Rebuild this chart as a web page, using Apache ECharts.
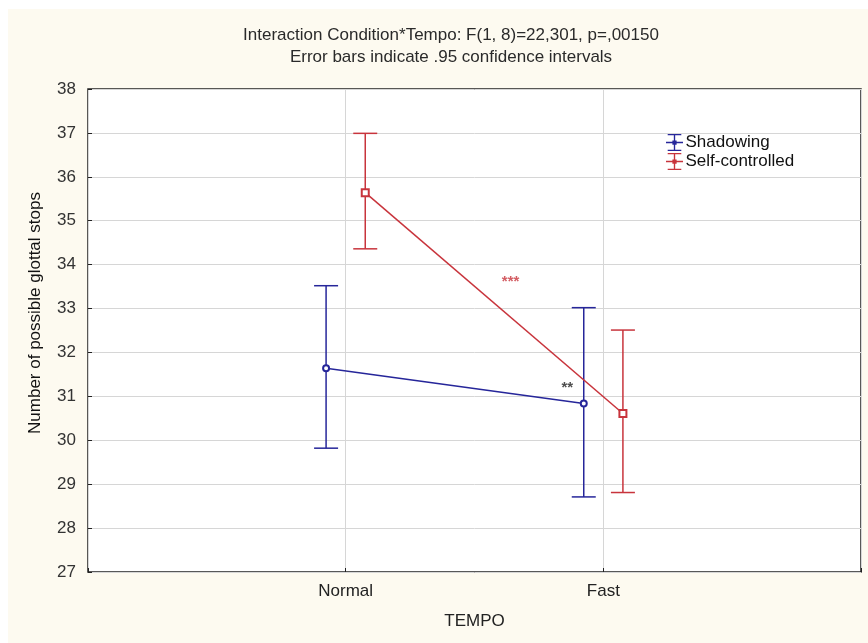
<!DOCTYPE html>
<html>
<head>
<meta charset="utf-8">
<script src="https://cdn.jsdelivr.net/npm/echarts@6/dist/echarts.min.js"></script>
<style>
  html, body { margin: 0; padding: 0; background: #fff; }
  #chart { width: 868px; height: 643px; }
</style>
</head>
<body>
<div id="chart"></div>
<script>
const tempo = ['Normal', 'Fast'];

const shadowMean = [31.64, 30.84];
const shadowLow = [29.82, 28.71];
const shadowHigh = [33.52, 33.02];

const selfMean = [35.64, 30.61];
const selfLow = [34.36, 28.81];
const selfHigh = [36.99, 32.51];

// significance marks: [x position (category units), y value, text]
const stars = [
  [1.64, 33.6, '***'],
  [1.86, 31.2, '**']
];

const BLUE = '#26269a';
const RED = '#c8343c';
const font = 'Liberation Sans, Arial, sans-serif';
const FS = 17;

const chart = echarts.init(document.getElementById('chart'));

function points(means, shift) {
  return means.map((m, i) => [i + 1 + shift, m]);
}
function bars(lows, highs, shift) {
  return lows.map((l, i) => [i + 1 + shift, l, highs[i]]);
}

function errorBar(params, api) {
  const x = api.value(0);
  const lo = api.coord([x, api.value(1)]);
  const hi = api.coord([x, api.value(2)]);
  const half = 12;
  const style = { stroke: api.visual('color'), lineWidth: 1.5 };
  return {
    type: 'group',
    children: [
      { type: 'line', shape: { x1: lo[0], y1: lo[1], x2: hi[0], y2: hi[1] }, style },
      { type: 'line', shape: { x1: hi[0] - half, y1: hi[1], x2: hi[0] + half, y2: hi[1] }, style },
      { type: 'line', shape: { x1: lo[0] - half, y1: lo[1], x2: lo[0] + half, y2: lo[1] }, style }
    ]
  };
}

const legendIcon = 'path://M2,0H18V1.6H2Z M2,18.4H18V20H2Z M9.2,0H10.8V20H9.2Z M0,9.2H20V10.8H0Z M7.5,7.5H12.5V12.5H7.5Z';

const shift = 0.076;

chart.setOption({
  backgroundColor: '#fdfaf0',
  animation: false,
  textStyle: { fontFamily: font },
  title: {
    text: 'Interaction Condition*Tempo: F(1, 8)=22,301, p=,00150',
    subtext: 'Error bars indicate .95 confidence intervals',
    left: 446,
    textAlign: 'center',
    top: 22,
    itemGap: 5,
    textStyle: { fontSize: FS, fontWeight: 'normal', color: '#2a2a2a', fontFamily: font },
    subtextStyle: { fontSize: FS, color: '#2a2a2a', fontFamily: font }
  },
  legend: {
    orient: 'vertical',
    left: 661,
    top: 129,
    itemWidth: 20,
    itemHeight: 17,
    itemGap: 2,
    data: [
      { name: 'Shadowing', icon: legendIcon },
      { name: 'Self-controlled', icon: legendIcon }
    ],
    textStyle: { fontSize: FS, color: '#111', fontFamily: font, padding: [0, 0, 0, -4] }
  },
  graphic: [
    { type: 'rect', left: 0, top: 0, shape: { width: 868, height: 9 }, style: { fill: '#fff' }, silent: true },
    { type: 'rect', left: 0, top: 0, shape: { width: 8, height: 643 }, style: { fill: '#fff' }, silent: true },
    {
      type: 'text',
      x: 35,
      y: 313,
      rotation: Math.PI / 2,
      style: {
        text: 'Number of possible glottal stops',
        font: FS + 'px ' + font,
        fill: '#111',
        align: 'center',
        verticalAlign: 'middle'
      },
      silent: true
    }
  ],
  grid: {
    left: 88,
    right: 7,
    top: 89,
    bottom: 71,
    show: true,
    backgroundColor: '#fff',
    borderColor: '#222',
    borderWidth: 1.5
  },
  xAxis: {
    type: 'value',
    min: 0,
    max: 3,
    interval: 1,
    name: 'TEMPO',
    nameLocation: 'middle',
    nameGap: 41,
    nameTextStyle: { fontSize: FS, color: '#222', fontFamily: font },
    axisLine: { show: false },
    axisTick: { show: true, inside: true, length: 4, lineStyle: { color: '#222' } },
    axisLabel: {
      fontSize: FS,
      color: '#222',
      margin: 11,
      formatter: v => (v >= 1 && v <= tempo.length ? tempo[v - 1] : '')
    },
    splitLine: { show: true, lineStyle: { color: '#d6d6d6', width: 1 } }
  },
  yAxis: {
    type: 'value',
    min: 27,
    max: 38,
    interval: 1,
    axisLine: { show: false },
    axisTick: { show: true, inside: true, length: 4, lineStyle: { color: '#222' } },
    axisLabel: { fontSize: FS, color: '#333', margin: 12 },
    splitLine: { show: true, lineStyle: { color: '#d6d6d6', width: 1 } }
  },
  series: [
    {
      name: 'Shadowing',
      type: 'custom',
      renderItem: errorBar,
      itemStyle: { color: BLUE },
      encode: { x: 0, y: [1, 2] },
      data: bars(shadowLow, shadowHigh, -shift),
      z: 2
    },
    {
      name: 'Self-controlled',
      type: 'custom',
      renderItem: errorBar,
      itemStyle: { color: RED },
      encode: { x: 0, y: [1, 2] },
      data: bars(selfLow, selfHigh, shift),
      z: 2
    },
    {
      name: 'Shadowing',
      type: 'line',
      symbol: 'emptyCircle',
      symbolSize: 6,
      itemStyle: { color: BLUE, borderWidth: 1.5 },
      lineStyle: { color: BLUE, width: 1.5 },
      data: points(shadowMean, -shift),
      z: 3
    },
    {
      name: 'Self-controlled',
      type: 'line',
      symbol: 'emptyRect',
      symbolSize: 7,
      itemStyle: { color: RED, borderWidth: 1.5 },
      lineStyle: { color: RED, width: 1.5 },
      data: points(selfMean, shift),
      z: 3
    },
    {
      type: 'scatter',
      symbolSize: 0,
      silent: true,
      data: stars.map(s => ({
        value: [s[0], s[1]],
        label: {
          show: true,
          formatter: s[2],
          position: 'inside',
          fontSize: 15,
          fontWeight: 'bold',
          color: s[2] === '***' ? RED : '#222'
        }
      })),
      z: 4
    }
  ]
});
</script>
</body>
</html>
